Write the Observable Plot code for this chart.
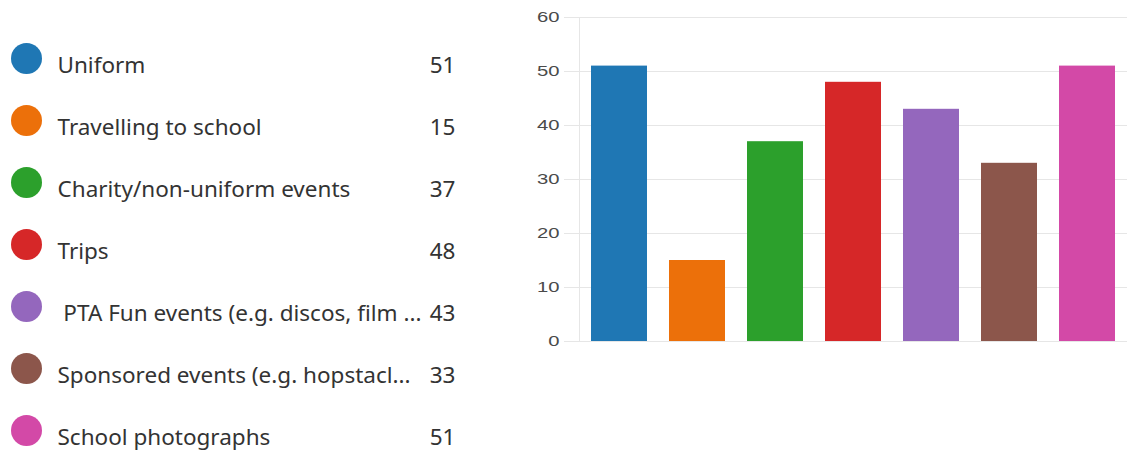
<!DOCTYPE html>
<html><head><meta charset="utf-8">
<script src="https://cdn.jsdelivr.net/npm/d3@7"></script>
<script src="https://cdn.jsdelivr.net/npm/@observablehq/plot@0.6"></script>
<style>
body{margin:0;background:#fff;width:1127px;height:452px;overflow:hidden;position:relative}
#legend{position:absolute;left:0;top:0}
#chart{position:absolute;left:520px;top:0}
#chart g[aria-label="y-axis tick label"], #chart g[aria-label="y-axis tick label"] text{font-size:15px}
</style></head><body>
<div id="legend"></div><div id="chart"></div>
<script>
const categories = ["Uniform","Travelling to school","Charity/non-uniform events","Trips","\u00a0PTA Fun events (e.g. discos, film ...","Sponsored events (e.g. hopstacl...","School photographs"];
const values = [51,15,37,48,43,33,51];
const colors = ["#1f77b4","#ec700a","#2ca02c","#d62728","#9467bd","#8c564b","#d349a7"];
const yTicks = [0,10,20,30,40,50,60];

const data = categories.map((c,i)=>({category:c, value:values[i]}));

const legend = Plot.plot({
  width:520, height:452, margin:0,
  style:{fontFamily:"'Noto Sans', sans-serif", background:"transparent"},
  x:{axis:null},
  y:{type:"point", domain:categories, range:[64,437], padding:0, axis:null},
  color:{domain:categories, range:colors},
  marks:[
    Plot.dot(data,{y:"category", fill:"category", r:15.5, frameAnchor:"left", dx:26, dy:-7}),
    Plot.text(data,{y:"category", text:"category", frameAnchor:"left", dx:57, textAnchor:"start", fontSize:22.5, fill:"#333"}),
    Plot.text(data,{y:"category", text:d=>String(d.value), frameAnchor:"left", dx:455, textAnchor:"end", fontSize:22.5, fill:"#333"})
  ]
});
document.getElementById("legend").append(legend);

const chart = Plot.plot({
  width:607, height:360, marginLeft:59, marginRight:0, marginTop:17, marginBottom:19,
  style:{fontFamily:"'Liberation Sans', Arial, sans-serif", background:"transparent"},
  x:{domain:categories, paddingInner:0.278, paddingOuter:0.1406, axis:null},
  y:{domain:[0,60]},
  color:{domain:categories, range:colors},
  marks:[
    Plot.gridY(yTicks,{stroke:"#e6e6e6", strokeOpacity:1}),
    Plot.axisY(yTicks,{tickSize:15, tickPadding:5, stroke:"#e6e6e6", fill:"#4a4a4a", fontSize:15, label:null}),
    Plot.frame({anchor:"left", stroke:"#e6e6e6"}),
    Plot.barY(data,{x:"category", y:"value", fill:"category"})
  ]
});
document.getElementById("chart").append(chart);
// stretch tick labels horizontally like the reference
chart.querySelectorAll('g[aria-label="y-axis tick label"] text').forEach(t => {
  const tr = t.getAttribute("transform") || "";
  t.setAttribute("font-size", "15");
  t.setAttribute("transform", (tr + " scale(1.35,1)").trim());
});
</script>
</body></html>
